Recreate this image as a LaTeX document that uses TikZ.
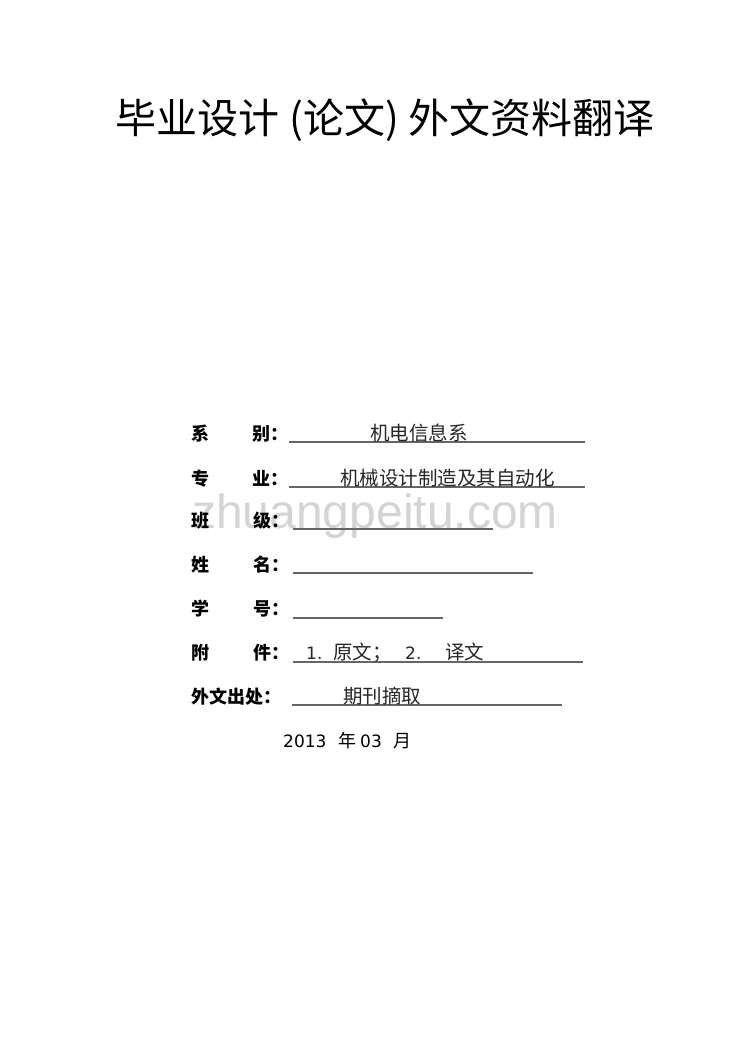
\documentclass[tikz,border=0pt]{standalone}
\usepackage{fontspec}
\newfontfamily\cjk{Noto Sans CJK SC}
\newfontfamily\dv{DejaVu Sans}
\newfontfamily\wm{Liberation Sans}
\begin{document}
\begin{tikzpicture}[x=1pt,y=-1pt,
  lab/.style={anchor=base west, inner sep=0, font=\fontsize{18}{18}\selectfont\cjk\bfseries},
  val/.style={anchor=base west, inner sep=0, text=black!85, font=\fontsize{19.5}{19.5}\selectfont\cjk},
  num/.style={anchor=base west, inner sep=0, text=black!85, font=\fontsize{17}{17}\selectfont\dv},
  uline/.style={draw=black!60, line width=1.2pt}]
\useasboundingbox[fill=white] (0,0) rectangle (744,1052);
% watermark
\node[anchor=base west, inner sep=0, text=black!17, font=\fontsize{48}{48}\selectfont\wm] (wm) at (192,528) {zhuangpeitu.com};
% title
\node[anchor=base, inner sep=0, font=\fontsize{41}{41}\selectfont\cjk] (title) at (385,133) {毕业设计 (论文) 外文资料翻译};
% row 1
\node[lab] (l1a) at (191,440) {系};
\node[lab] (l1b) at (252,440) {别：};
\coordinate (u1s) at (289,442); \coordinate (u1e) at (585,442);
\draw[uline] (u1s) -- (u1e);
\node[val] (v1) at (370,440) {机电信息系};
% row 2
\node[lab] (l2a) at (191,485) {专};
\node[lab] (l2b) at (252,485) {业：};
\coordinate (u2s) at (289,487); \coordinate (u2e) at (585,487);
\draw[uline] (u2s) -- (u2e);
\node[val] (v2) at (340,485) {机械设计制造及其自动化};
% row 3
\node[lab] (l3a) at (191,527) {班};
\node[lab] (l3b) at (253,527) {级：};
\coordinate (u3s) at (293,529); \coordinate (u3e) at (493,529);
\draw[uline] (u3s) -- (u3e);
% row 4
\node[lab] (l4a) at (191,571) {姓};
\node[lab] (l4b) at (253,571) {名：};
\coordinate (u4s) at (293,573); \coordinate (u4e) at (533,573);
\draw[uline] (u4s) -- (u4e);
% row 5
\node[lab] (l5a) at (191,615) {学};
\node[lab] (l5b) at (253,615) {号：};
\coordinate (u5s) at (293,618); \coordinate (u5e) at (443,618);
\draw[uline] (u5s) -- (u5e);
% row 6
\node[lab] (l6a) at (191,659) {附};
\node[lab] (l6b) at (253,659) {件：};
\coordinate (u6s) at (293,662); \coordinate (u6e) at (583,662);
\draw[uline] (u6s) -- (u6e);
\node[num] (v6a) at (306,659) {1.};
\node[val] (v6b) at (333,659) {原文；};
\node[num] (v6c) at (405,659) {2.};
\node[val] (v6d) at (445,659) {译文};
% row 7
\node[lab] (l7) at (191,703) {外文出处：};
\coordinate (u7s) at (292,705); \coordinate (u7e) at (562,705);
\draw[uline] (u7s) -- (u7e);
\node[val] (v7) at (343,703) {期刊摘取};
% date
\node[num, text=black] (d1) at (283,747) {2013};
\node[val, text=black, font=\fontsize{18}{18}\selectfont\cjk] (d2) at (338,747) {年};
\node[num, text=black] (d3) at (360,747) {03};
\node[val, text=black, font=\fontsize{18}{18}\selectfont\cjk] (d4) at (393,747) {月};
\end{tikzpicture}
\end{document}
